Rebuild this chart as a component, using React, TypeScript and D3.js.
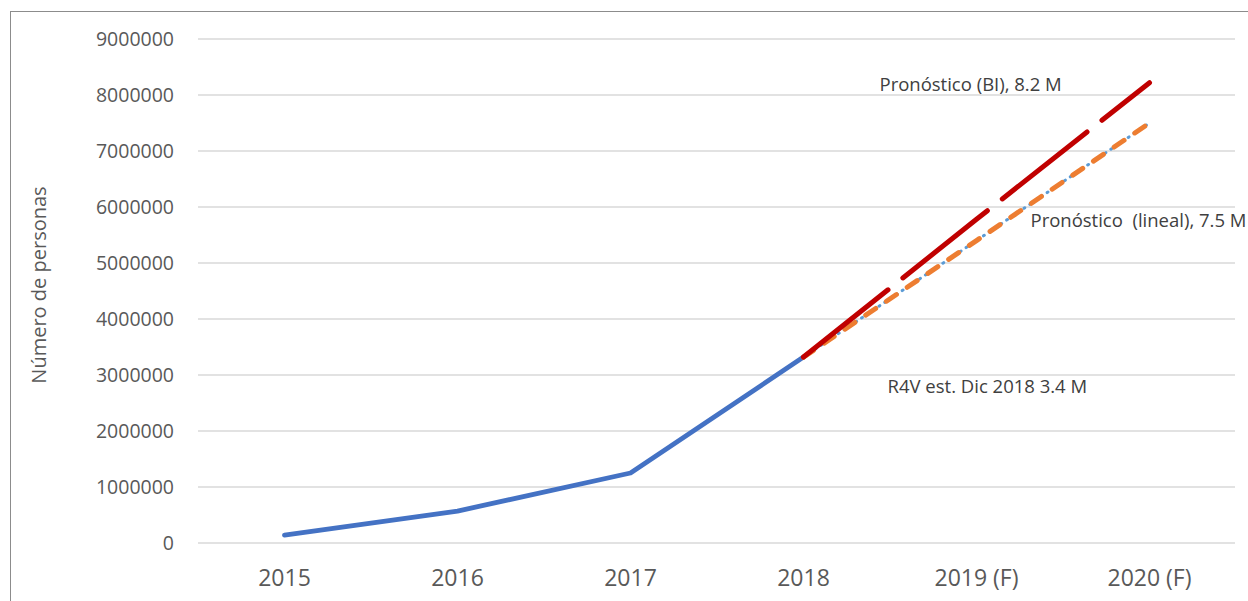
import * as d3 from "d3";

const W = 1248;
const H = 601;
const MARGIN = { top: 39, right: 12, bottom: 58, left: 198 };

const categories = ["2015", "2016", "2017", "2018", "2019 (F)", "2020 (F)"];
const observed = [140000, 570000, 1250000, 3320000];
const linealForecast = [3320000, 5400000, 7500000];
const biForecast = [3320000, 5780000, 8220000];
const yTicks = [0, 1000000, 2000000, 3000000, 4000000, 5000000, 6000000, 7000000, 8000000, 9000000];

const FONT = "'Open Sans', 'Liberation Sans', sans-serif";

export default function App() {
  const boundsWidth = W - MARGIN.left - MARGIN.right;
  const boundsHeight = H - MARGIN.top - MARGIN.bottom;

  const xScale = d3.scaleBand().domain(categories).range([0, boundsWidth]);
  const yScale = d3.scaleLinear().domain([0, 9000000]).range([boundsHeight, 0]);
  const cx = (c: string) => (xScale(c) ?? 0) + xScale.bandwidth() / 2;

  const line = d3
    .line<[string, number]>()
    .x((d) => cx(d[0]))
    .y((d) => yScale(d[1]));

  const obsPts = observed.map((v, i) => [categories[i], v] as [string, number]);
  const linPts = linealForecast.map((v, i) => [categories[i + 3], v] as [string, number]);
  const biPts = biForecast.map((v, i) => [categories[i + 3], v] as [string, number]);

  return (
    <div style={{ position: "absolute", left: 0, top: 0, background: "#fff" }}>
      <svg width={W} height={H} style={{ display: "block" }}>
        <rect x={10.5} y={11.5} width={W + 10} height={H + 10} fill="#fff" stroke="#8c8c8c" strokeWidth={1} />
        <g transform={`translate(${MARGIN.left},${MARGIN.top})`}>
          {yTicks.map((t) => (
            <g key={t}>
              <line x1={0} x2={boundsWidth - 1} y1={yScale(t)} y2={yScale(t)} stroke="#d9d9d9" strokeWidth={1.5} />
              <text
                x={-24}
                y={yScale(t)}
                dy="0.36em"
                textAnchor="end"
                fontFamily={FONT}
                fontSize={19.5}
                fill="#595959"
              >
                {t}
              </text>
            </g>
          ))}
          {categories.map((c) => (
            <text
              key={c}
              x={cx(c)}
              y={boundsHeight + 43}
              textAnchor="middle"
              fontFamily={FONT}
              fontSize={23}
              fill="#595959"
            >
              {c}
            </text>
          ))}

          {/* observed series */}
          <path d={line(obsPts) ?? ""} fill="none" stroke="#4472C4" strokeWidth={4.8} strokeLinecap="round" strokeLinejoin="round" />
          {/* dotted continuation of the observed series */}
          <path d={line(linPts) ?? ""} fill="none" stroke="#5B9BD5" strokeWidth={3} strokeDasharray="1 6" strokeLinecap="round" />
          {/* linear forecast */}
          <path d={line(linPts) ?? ""} fill="none" stroke="#ED7D31" strokeWidth={5} strokeDasharray="12 13" strokeLinecap="round" />
          {/* BI forecast */}
          <path d={line(biPts) ?? ""} fill="none" stroke="#C00000" strokeWidth={5} strokeDasharray="108 19" strokeLinecap="round" />

          <text x={cx("2019 (F)") - 97} y={yScale(8220000) + 8} fontFamily={FONT} fontSize={18.5} fill="#404040">
            Pronóstico (BI), 8.2 M
          </text>
          <text x={cx("2019 (F)") + 54} y={yScale(5800000) + 9} fontFamily={FONT} fontSize={18.5} fill="#404040" style={{ whiteSpace: "pre" }}>
            {"Pronóstico  (lineal), 7.5 M"}
          </text>
          <text x={cx("2019 (F)") - 89} y={yScale(3000000) + 18} fontFamily={FONT} fontSize={18.5} fill="#404040">
            R4V est. Dic 2018 3.4 M
          </text>
        </g>
        <text
          transform={`translate(46,${MARGIN.top + boundsHeight / 2 - 6}) rotate(-90)`}
          textAnchor="middle"
          fontFamily={FONT}
          fontSize={20}
          fill="#595959"
        >
          Número de personas
        </text>
      </svg>
    </div>
  );
}
